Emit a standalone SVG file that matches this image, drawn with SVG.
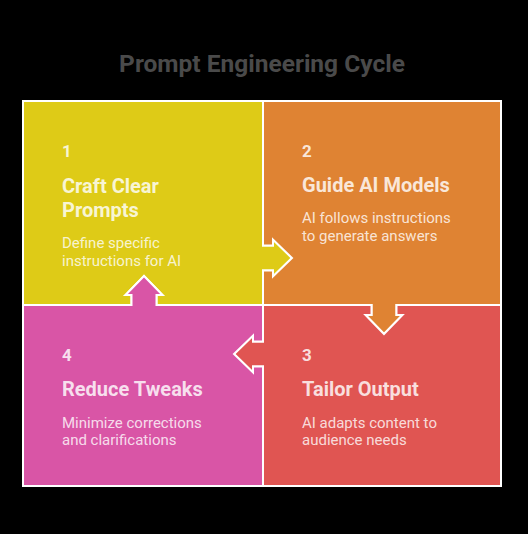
<svg xmlns="http://www.w3.org/2000/svg" width="528" height="534" viewBox="0 0 528 534">
  <style>
    .q { stroke: #ffffff; stroke-width: 2; stroke-linejoin: miter; }
    .num { font-family: Roboto, "Liberation Sans", sans-serif; font-weight: 700; font-size: 17px; fill: #ffffff; fill-opacity: 0.82; }
    .ttl { font-family: Roboto, "Liberation Sans", sans-serif; font-weight: 700; font-size: 20px; fill: #ffffff; fill-opacity: 0.82; }
    .dsc { font-family: Roboto, "Liberation Sans", sans-serif; font-weight: 400; font-size: 15px; fill: #ffffff; fill-opacity: 0.8; }
    .title { font-family: Roboto, "Liberation Sans", sans-serif; font-weight: 700; font-size: 24.5px; fill: #4a4a4a; }
  </style>
  <rect x="0" y="0" width="528" height="534" fill="#000000"/>
  <text class="title" x="262" y="72" text-anchor="middle">Prompt Engineering Cycle</text>

  <g id="node-1">
    <path class="q" fill="#DECB17" d="M23,101 H263 V245.5 H273 V239.5 L292,258 L273,276.5 V270.5 H263 V305 H156.5 V295 H162.5 L144,276 L125.5,295 H131.5 V305 H23 Z"/>
    <text class="num" x="62" y="157">1</text>
    <text class="ttl" x="62" y="193">Craft Clear</text>
    <text class="ttl" x="62" y="217">Prompts</text>
    <text class="dsc" x="62" y="248">Define specific</text>
    <text class="dsc" x="62" y="266">instructions for AI</text>
  </g>

  <g id="node-2">
    <path class="q" fill="#DF8333" d="M263,101 H501 V305 H396.5 V315 H402.5 L384,334 L365.5,315 H371.5 V305 H263 V270.5 H273 V276.5 L292,258 L273,239.5 V245.5 H263 Z"/>
    <text class="num" x="302" y="157">2</text>
    <text class="ttl" x="302" y="192">Guide AI Models</text>
    <text class="dsc" x="302" y="223">AI follows instructions</text>
    <text class="dsc" x="302" y="241">to generate answers</text>
  </g>

  <g id="node-3">
    <path class="q" fill="#E05552" d="M263,305 H371.5 V315 H365.5 L384,334 L402.5,315 H396.5 V305 H501 V486 H263 V366.5 H253 V372.5 L234,354 L253,335.5 V341.5 H263 Z"/>
    <text class="num" x="302" y="361">3</text>
    <text class="ttl" x="302" y="396">Tailor Output</text>
    <text class="dsc" x="302" y="428">AI adapts content to</text>
    <text class="dsc" x="302" y="445">audience needs</text>
  </g>

  <g id="node-4">
    <path class="q" fill="#D955A6" d="M23,305 H131.5 V295 H125.5 L144,276 L162.5,295 H156.5 V305 H263 V341.5 H253 V335.5 L234,354 L253,372.5 V366.5 H263 V486 H23 Z"/>
    <text class="num" x="62" y="361">4</text>
    <text class="ttl" x="62" y="396">Reduce Tweaks</text>
    <text class="dsc" x="62" y="428">Minimize corrections</text>
    <text class="dsc" x="62" y="445">and clarifications</text>
  </g>

  <g id="connectors"></g>
</svg>
